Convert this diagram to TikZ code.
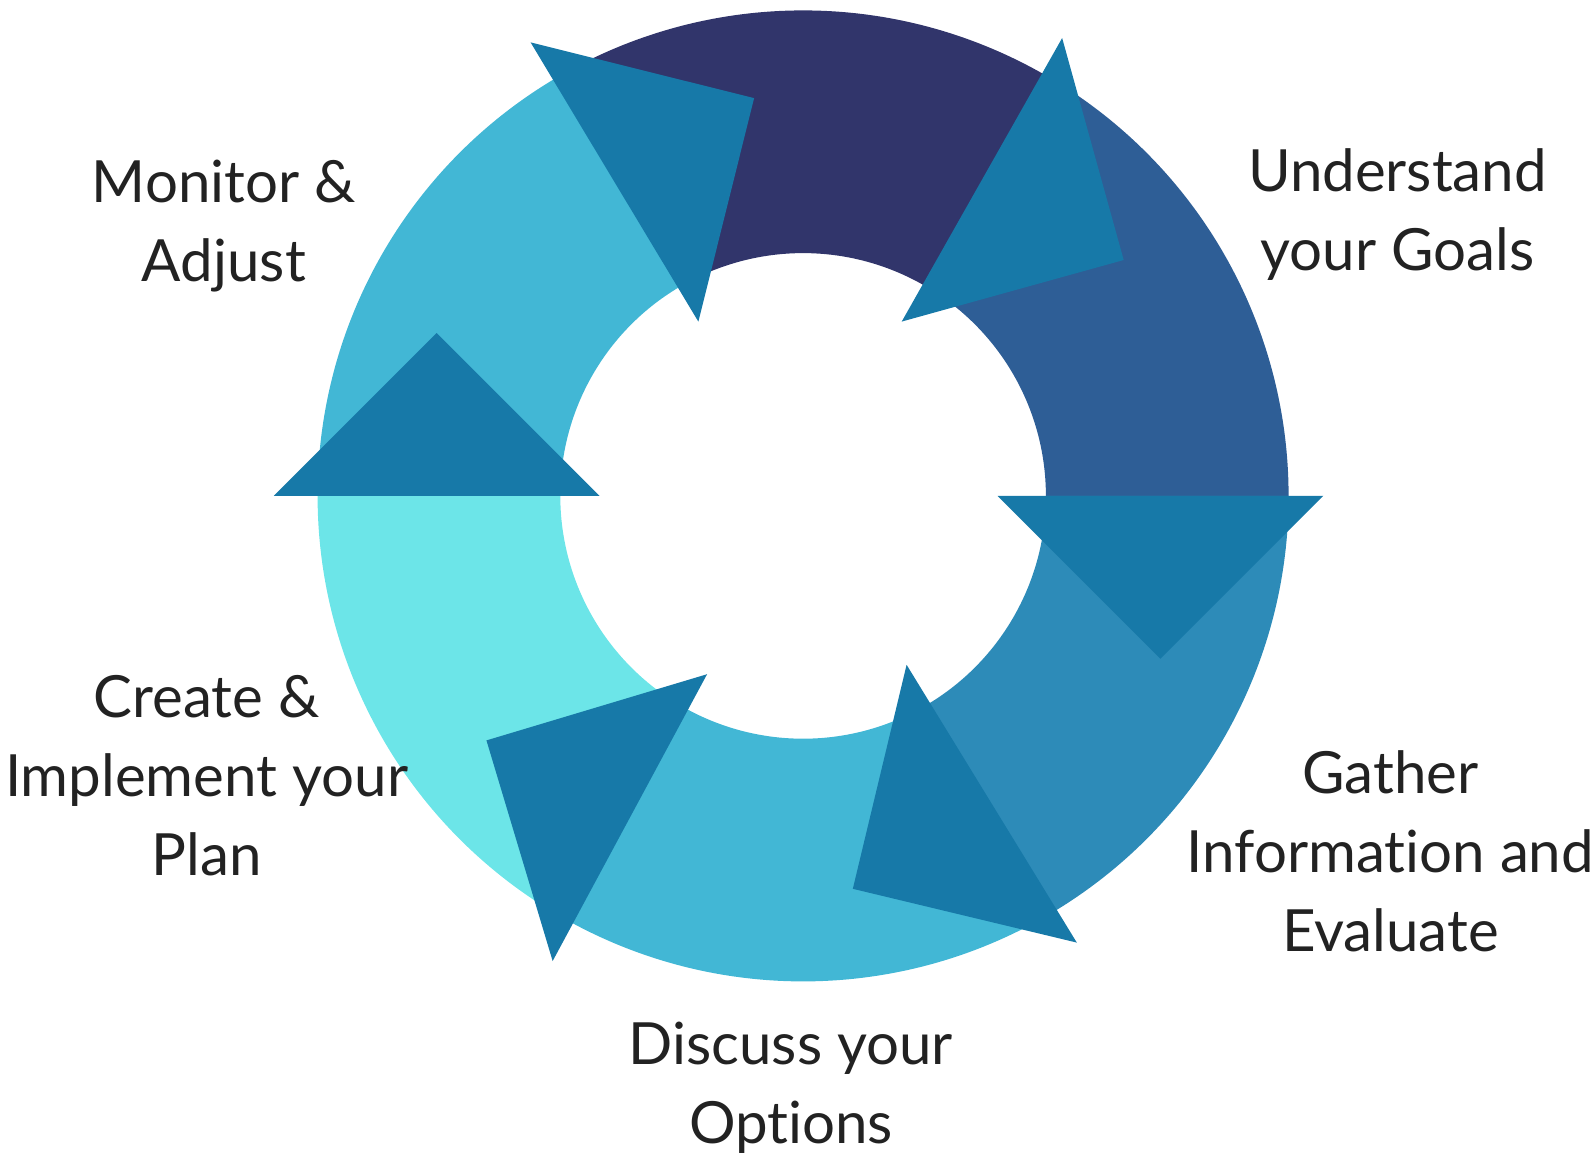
\documentclass[tikz,border=0pt]{standalone}
\usepackage{fontspec}
\setmainfont{Lato}[Ligatures=NoCommon]
\usetikzlibrary{calc}

\definecolor{topnavy}{HTML}{31356B}
\definecolor{goalblue}{HTML}{2E5E96}
\definecolor{midblue}{HTML}{2D8BB8}
\definecolor{lightblue}{HTML}{42B7D5}
\definecolor{cyanblue}{HTML}{6CE5E8}
\definecolor{arrowblue}{HTML}{1779A8}
\definecolor{textgray}{HTML}{222222}

\tikzset{
  stage/.style={font=\fontsize{29.1}{39.4}\selectfont, text=textgray, align=center, inner sep=0pt},
}

\begin{document}
\begin{tikzpicture}[x=0.5pt,y=0.5pt]
  \useasboundingbox (-803.1,-657.1) rectangle (792.9,495.9);

  %Ring segments
  \foreach \from/\col in {0/goalblue, 60/topnavy, 120/lightblue, 180/cyanblue, 240/lightblue, 300/midblue}
    \fill[\col] (\from:485.5) arc[start angle=\from, end angle=\from+60, radius=485.5]
      -- (\from+60:242.8) arc[start angle=\from+60, end angle=\from, radius=242.8] -- cycle;

  % Arrow heads on the joins (angle / middle of base)
  \foreach \a/\m in {0/357.3, 60.5/363.2, 121/366.2, 180/366.4, 241.7/365.4, 301.5/361}
    \fill[arrowblue] (\a:\m-162.9) -- (\a:\m+162.9) -- ($(\a:\m)+(\a-90:162.9)$) -- cycle;

  %Define nodes
  \node[stage] (goals)   at (594.4,281.5)   {Understand\\your Goals};
  \node[stage] (gather)  at (587.3,-355.2)  {Gather\\Information and\\Evaluate};
  \node[stage] (options) at (-12.2,-591.5)  {Discuss your\\Options};
  \node[stage] (plan)    at (-596.5,-279.9) {Create \&\\Implement your\\Plan};
  \node[stage] (monitor) at (-579.2,270.0)  {Monitor \&\\Adjust};
\end{tikzpicture}
\end{document}
